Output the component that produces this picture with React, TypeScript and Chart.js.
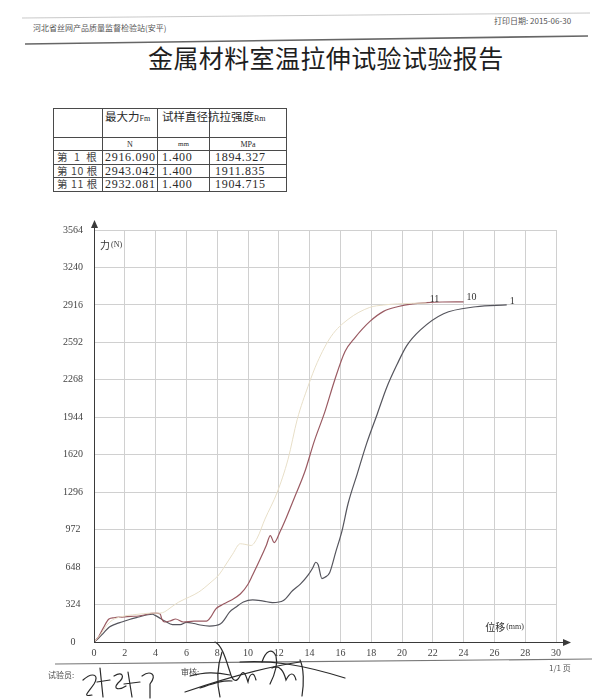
import React, { useEffect, useRef } from "react";
import { Chart, registerables } from "chart.js";

Chart.register(...registerables);

// ---- table data ----
const specimens = ["第  1  根", "第 10 根", "第 11 根"];
const maxForce = ["2916.090", "2943.042", "2932.081"];
const diameter = ["1.400", "1.400", "1.400"];
const strength = ["1894.327", "1911.835", "1904.715"];

// ---- axis ticks ----
const xTickValues = [0, 2, 4, 6, 8, 10, 12, 14, 16, 18, 20, 22, 24, 26, 28, 30];
const yTickValues = [0, 324, 648, 972, 1296, 1620, 1944, 2268, 2592, 2916, 3240, 3564];

// ---- curve 1 (dark gray) ----
const disp1 = [0, 0.3, 0.6, 1.0, 1.4, 1.8, 2.3, 2.9, 3.5, 3.8, 4.0, 4.3, 4.6, 5.1, 5.6, 6.0, 6.5, 6.9, 7.5, 8.2, 8.5, 8.8, 9.2, 9.7, 10.3, 11.0, 11.6, 12.3, 12.9, 13.4, 13.9, 14.2, 14.4, 14.55, 14.8, 15.0, 15.3, 15.7, 16.1, 16.5, 17.1, 17.7, 18.4, 19.0, 19.7, 20.3, 21.2, 22.7, 24.8, 26.8];
const force1 = [0, 35, 75, 130, 155, 173, 195, 216, 236, 240, 228, 205, 181, 150, 150, 170, 160, 147, 138, 155, 200, 259, 300, 346, 365, 354, 341, 359, 445, 500, 578, 640, 690, 670, 549, 560, 600, 780, 960, 1198, 1457, 1716, 1975, 2200, 2407, 2562, 2700, 2840, 2900, 2916];

// ---- curve 10 (reddish) ----
const disp10 = [0, 0.3, 0.6, 0.97, 1.3, 1.8, 2.4, 2.9, 3.4, 3.7, 4.0, 4.3, 4.4, 4.6, 5.0, 5.3, 5.8, 6.5, 7.3, 7.6, 7.9, 8.3, 8.8, 9.5, 10.0, 10.3, 10.8, 11.2, 11.45, 11.7, 12.1, 12.5, 13.0, 13.7, 14.3, 15.0, 15.6, 16.3, 16.9, 17.9, 18.8, 19.7, 20.7, 21.6, 22.6, 24.0];
const force10 = [0, 45, 120, 199, 210, 216, 222, 225, 238, 248, 250, 242, 200, 173, 185, 199, 173, 181, 181, 220, 285, 320, 354, 415, 500, 580, 720, 840, 920, 860, 960, 1080, 1244, 1477, 1736, 1995, 2254, 2513, 2625, 2771, 2860, 2900, 2925, 2935, 2941, 2943];

// ---- curve 11 (light) ----
const disp11 = [0, 0.4, 0.8, 1.2, 1.8, 2.5, 3.2, 3.8, 4.3, 4.6, 5.0, 5.5, 6.2, 6.8, 7.6, 8.1, 8.5, 9.0, 9.5, 9.8, 10.2, 10.6, 11.1, 11.9, 12.6, 13.2, 13.9, 14.5, 15.4, 16.5, 17.9, 18.8, 19.7, 20.7, 21.6];
const force11 = [0, 60, 140, 190, 220, 235, 245, 250, 250, 262, 300, 345, 390, 432, 518, 580, 657, 760, 850, 845, 835, 900, 1063, 1296, 1581, 1927, 2212, 2419, 2644, 2791, 2894, 2915, 2925, 2930, 2932];

const seriesNames = ["11", "10", "1"];
const seriesColors = ["#e8dfc8", "#9a5a62", "#55555d"];

const pts = (xs: number[], ys: number[]) => xs.map((x, i) => ({ x, y: ys[i] }));

const overlay = {
  id: "overlay",
  afterDatasetsDraw(chart: any) {
    const { ctx, chartArea: a, scales } = chart;
    const x = scales.x;
    const y = scales.y;
    ctx.save();
    ctx.strokeStyle = "#3a3a3a";
    ctx.fillStyle = "#3a3a3a";
    ctx.lineWidth = 1;
    // y axis with arrow
    ctx.beginPath();
    ctx.moveTo(a.left + 0.5, a.bottom + 0.5);
    ctx.lineTo(a.left + 0.5, a.top - 5);
    ctx.stroke();
    ctx.beginPath();
    ctx.moveTo(a.left + 0.5, a.top - 10);
    ctx.lineTo(a.left - 3, a.top - 2);
    ctx.lineTo(a.left + 4, a.top - 2);
    ctx.closePath();
    ctx.fill();
    // x axis with arrow
    ctx.beginPath();
    ctx.moveTo(a.left, a.bottom + 0.5);
    ctx.lineTo(a.right + 10, a.bottom + 0.5);
    ctx.stroke();
    ctx.beginPath();
    ctx.moveTo(a.right + 15, a.bottom + 0.5);
    ctx.lineTo(a.right + 7, a.bottom - 3);
    ctx.lineTo(a.right + 7, a.bottom + 4);
    ctx.closePath();
    ctx.fill();
    // axis titles
    ctx.fillStyle = "#333";
    ctx.textBaseline = "middle";
    ctx.textAlign = "left";
    ctx.font = '10px "Noto Sans CJK SC"';
    ctx.fillText("力", a.left + 6, a.top + 15);
    ctx.fillText("位移", x.getPixelForValue(25.4), a.bottom - 15);
    ctx.font = '8px "Liberation Serif"';
    ctx.fillText("(N)", a.left + 17, a.top + 15);
    ctx.fillText("(mm)", x.getPixelForValue(25.4) + 21, a.bottom - 15);
    // end labels
    ctx.font = '10px "Liberation Serif"';
    chart.data.datasets.forEach((ds: any) => {
      const last = ds.data[ds.data.length - 1];
      ctx.fillText(ds.label, x.getPixelForValue(last.x) + 3, y.getPixelForValue(last.y) - 4);
    });
    ctx.restore();
  },
};

function ForceChart() {
  const ref = useRef<HTMLCanvasElement | null>(null);
  useEffect(() => {
    if (!ref.current) return;
    const tickFont = { family: '"Liberation Serif", serif', size: 10 };
    const chart = new Chart(ref.current, {
      type: "line",
      data: {
        datasets: [
          { label: seriesNames[0], data: pts(disp11, force11), borderColor: seriesColors[0], borderWidth: 1 },
          { label: seriesNames[1], data: pts(disp10, force10), borderColor: seriesColors[1], borderWidth: 1.2 },
          { label: seriesNames[2], data: pts(disp1, force1), borderColor: seriesColors[2], borderWidth: 1.2 },
        ],
      },
      options: {
        animation: false,
        responsive: false,
        layout: { padding: { top: 25, right: 29, left: 0, bottom: 0 } },
        plugins: { legend: { display: false }, tooltip: { enabled: false } },
        elements: { point: { radius: 0 }, line: { cubicInterpolationMode: "monotone" } },
        scales: {
          x: {
            type: "linear",
            min: 0,
            max: 30,
            afterBuildTicks: (s: any) => {
              s.ticks = xTickValues.map((v) => ({ value: v }));
            },
            afterFit: (s: any) => {
              s.height = 28;
            },
            ticks: { font: tickFont, color: "#444", padding: 5, maxRotation: 0, autoSkip: false, callback: (v: any) => String(v) },
            grid: { color: "#d0d0d0", lineWidth: 1, drawTicks: false },
            border: { display: false },
          },
          y: {
            type: "linear",
            min: 0,
            max: 3564,
            afterBuildTicks: (s: any) => {
              s.ticks = yTickValues.map((v) => ({ value: v }));
            },
            afterFit: (s: any) => {
              s.width = 64;
            },
            ticks: { font: tickFont, color: "#444", padding: 11, crossAlign: "center", autoSkip: false, callback: (v: any) => String(v) },
            grid: { color: "#d0d0d0", lineWidth: 1, drawTicks: false },
            border: { display: false },
          },
        },
      } as any,
      plugins: [overlay],
    });
    return () => chart.destroy();
  }, []);
  return <canvas ref={ref} width={555} height={465} style={{ position: "absolute", left: 30, top: 205 }} />;
}

const cjk = '"Noto Sans CJK SC", sans-serif';
const serif = '"Liberation Serif", "Noto Sans CJK SC", serif';

function ResultTable() {
  const colW = [49, 55, 52, 77];
  const cell: React.CSSProperties = {
    border: "1px solid #4a4a4a",
    padding: 0,
    whiteSpace: "pre",
    overflow: "visible",
    color: "#2a2a2a",
  };
  const num: React.CSSProperties = { ...cell, fontFamily: serif, fontSize: 12, letterSpacing: 0.7, paddingLeft: 2, lineHeight: "12px" };
  return (
    <table
      style={{
        position: "absolute",
        left: 53,
        top: 108,
        borderCollapse: "collapse",
        tableLayout: "fixed",
        width: colW.reduce((p, c) => p + c, 0),
      }}
    >
      <colgroup>
        {colW.map((w, i) => (
          <col key={i} style={{ width: w }} />
        ))}
      </colgroup>
      <tbody>
        <tr style={{ height: 29 }}>
          <td style={cell}></td>
          <td style={{ ...cell, verticalAlign: "top", paddingLeft: 2, fontFamily: cjk, fontSize: 11.5, lineHeight: "15px" }}>
            最大力<span style={{ fontFamily: serif, fontSize: 8 }}>Fm</span>
          </td>
          <td style={{ ...cell, verticalAlign: "top", paddingLeft: 4, fontFamily: cjk, fontSize: 11.5, lineHeight: "15px" }}>试样直径</td>
          <td style={{ ...cell, verticalAlign: "top", paddingLeft: 0, fontFamily: cjk, fontSize: 11.5, lineHeight: "15px" }}>
            <span style={{ marginLeft: -2 }}>抗拉强度</span>
            <span style={{ fontFamily: serif, fontSize: 8 }}>Rm</span>
          </td>
        </tr>
        <tr style={{ height: 13 }}>
          <td style={cell}></td>
          <td style={{ ...cell, textAlign: "center", fontFamily: serif, fontSize: 8, lineHeight: "11px" }}>N</td>
          <td style={{ ...cell, textAlign: "center", fontFamily: serif, fontSize: 7, lineHeight: "11px" }}>mm</td>
          <td style={{ ...cell, textAlign: "center", fontFamily: serif, fontSize: 8, lineHeight: "11px" }}>MPa</td>
        </tr>
        {specimens.map((s, i) => (
          <tr key={s} style={{ height: 13.5 }}>
            <td style={{ ...cell, fontFamily: cjk, fontSize: 10.5, paddingLeft: 3, letterSpacing: 0.6, lineHeight: "12px", color: "#444" }}>{s}</td>
            <td style={num}>{maxForce[i]}</td>
            <td style={{ ...num, paddingLeft: 4 }}>{diameter[i]}</td>
            <td style={{ ...num, paddingLeft: 5 }}>{strength[i]}</td>
          </tr>
        ))}
      </tbody>
    </table>
  );
}

export default function App() {
  return (
    <div
      style={{
        position: "absolute",
        left: 0,
        top: 0,
        width: 600,
        height: 700,
        background: "#ffffff",
        overflow: "hidden",
      }}
    >
      <svg width={600} height={700} style={{ position: "absolute", left: 0, top: 0 }}>
        <line x1={22} y1={18} x2={590} y2={13} stroke="#bbbbbb" strokeWidth={0.8} />
        <line x1={25} y1={44} x2={588} y2={36} stroke="#666" strokeWidth={1.6} />
        <line x1={55} y1={664} x2={592} y2={659} stroke="#777" strokeWidth={1.2} />
        {/* signatures */}
        <g fill="none" stroke="#2a2a2a" strokeWidth={1.2} strokeLinecap="round">
          <path d="M83,680 C92,672 100,674 94,684 C88,693 82,697 92,695" />
          <path d="M100,668 L103,697 M97,682 L110,680" />
          <path d="M114,676 C122,671 126,676 118,683 C112,690 120,690 126,686" />
          <path d="M128,672 L132,697 M124,684 L140,682" />
          <path d="M142,676 C150,670 158,674 150,684 L150,698" />
          <path d="M185,692 C220,680 260,668 300,662" />
          <path d="M190,676 C205,672 215,672 230,675" />
          <path d="M200,688 C212,684 222,680 232,681" />
          <path d="M222,652 C218,664 216,680 220,697" />
          <path d="M215,642 C222,645 226,660 230,672 C232,680 236,684 240,676 C244,668 246,676 248,682 C250,672 254,672 256,680" />
          <path d="M262,662 C266,650 272,648 276,656 C278,664 274,676 270,684 M272,668 C280,664 284,672 286,680 C290,672 294,672 296,680" />
          <path d="M300,660 C304,668 304,684 302,696" />
          <path d="M240,662 C270,660 300,664 345,678" />
        </g>
      </svg>
      <div style={{ position: "absolute", left: 33, top: 23, fontFamily: cjk, fontSize: 8, color: "#555", whiteSpace: "nowrap", lineHeight: "10px" }}>
        河北省丝网产品质量监督检验站(安平)
      </div>
      <div style={{ position: "absolute", left: 494, top: 16, fontFamily: cjk, fontSize: 8, color: "#555", whiteSpace: "nowrap", lineHeight: "10px" }}>
        打印日期: 2015-06-30
      </div>
      <div
        style={{
          position: "absolute",
          left: 148,
          top: 42,
          fontFamily: cjk,
          fontSize: 25,
          letterSpacing: 0.4,
          color: "#1e1e1e",
          whiteSpace: "nowrap",
          lineHeight: "30px",
        }}
      >
        金属材料室温拉伸试验试验报告
      </div>
      <ResultTable />
      <ForceChart />
      <div style={{ position: "absolute", left: 48, top: 670, fontFamily: cjk, fontSize: 8, color: "#444", whiteSpace: "nowrap", lineHeight: "10px" }}>
        试验员:
      </div>
      <div style={{ position: "absolute", left: 181, top: 667, fontFamily: cjk, fontSize: 8, color: "#444", whiteSpace: "nowrap", lineHeight: "10px" }}>
        审核:
      </div>
      <div style={{ position: "absolute", left: 549, top: 663, fontFamily: cjk, fontSize: 8, color: "#555", whiteSpace: "nowrap", lineHeight: "10px" }}>
        1/1 页
      </div>
    </div>
  );
}
